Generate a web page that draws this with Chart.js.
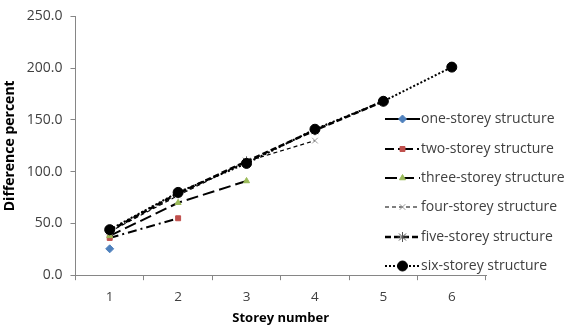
<!DOCTYPE html>
<html>
<head>
<meta charset="utf-8">
<script src="https://cdn.jsdelivr.net/npm/chart.js@4/dist/chart.umd.min.js"></script>
<style>
html,body{margin:0;padding:0;background:#fff;}
#wrap{width:569px;height:326px;position:relative;}
</style>
</head>
<body>
<div id="wrap"><canvas id="c" width="569" height="326"></canvas></div>
<script>
const categories = ['1','2','3','4','5','6'];
const oneStorey   = [25.5];
const twoStorey   = [36, 55];
const threeStorey = [38, 70, 91];
const fourStorey  = [42, 77, 110, 130];
const fiveStorey  = [43, 79, 110, 140, 168];
const sixStorey   = [44, 80, 108, 141, 168, 201];
const seriesNames = ['one-storey structure','two-storey structure','three-storey structure','four-storey structure','five-storey structure','six-storey structure'];
const yTicks = [0, 50, 100, 150, 200, 250];

const styles = [
  {line:'#000', width:2, dash:[], point:'rectRot', pColor:'#4F81BD', pBorder:'#4F81BD', r:4},
  {line:'#000', width:2, dash:[9,4,2,4], point:'rect', pColor:'#C0504D', pBorder:'#C0504D', r:3.5},
  {line:'#000', width:2, dash:[12,5], point:'triangle', pColor:'#9BBB59', pBorder:'#9BBB59', r:3.5},
  {line:'#000', width:1.2, dash:[4,3], point:'crossRot', pColor:'#999', pBorder:'#999', r:4},
  {line:'#000', width:2.5, dash:[6,3], point:'star', pColor:'#555', pBorder:'#555', r:5},
  {line:'#000', width:2, dash:[2,2], point:'circle', pColor:'#000', pBorder:'#000', r:5}
];
const allData = [oneStorey, twoStorey, threeStorey, fourStorey, fiveStorey, sixStorey];

const datasets = allData.map((d,i)=>({
  label: seriesNames[i],
  data: d,
  borderColor: styles[i].line,
  borderWidth: styles[i].width,
  borderDash: styles[i].dash,
  pointStyle: styles[i].point,
  pointRadius: styles[i].r,
  pointBackgroundColor: styles[i].pColor,
  pointBorderColor: styles[i].pBorder,
  pointBorderWidth: 1,
  fill: false,
  tension: 0,
  order: 6 - i
}));

const legendPlugin = {
  id: 'customLegend',
  afterDraw(chart) {
    const ctx = chart.ctx;
    const x0 = 385, x1 = 420, tx = 421;
    const ys = [119, 149, 178, 207, 237, 266];
    ctx.save();
    ctx.font = '14px "Open Sans"';
    ctx.textBaseline = 'middle';
    datasets.forEach((ds,i)=>{
      const y = ys[i];
      ctx.save();
      ctx.strokeStyle = ds.borderColor;
      ctx.lineWidth = ds.borderWidth;
      ctx.setLineDash(ds.borderDash);
      ctx.beginPath(); ctx.moveTo(x0,y); ctx.lineTo(x1,y); ctx.stroke();
      ctx.restore();
      ctx.save();
      ctx.fillStyle = ds.pointBackgroundColor;
      ctx.strokeStyle = ds.pointBorderColor;
      ctx.lineWidth = 1;
      Chart.helpers.drawPoint(ctx, {pointStyle: ds.pointStyle, radius: ds.pointRadius, rotation: 0, borderWidth: 1}, (x0+x1)/2, y);
      ctx.restore();
      ctx.fillStyle = '#404040';
      ctx.fillText(ds.label, tx, y);
    });
    ctx.restore();
  }
};

new Chart(document.getElementById('c'), {
  type: 'line',
  data: { labels: categories, datasets },
  options: {
    responsive: false,
    animation: false,
    layout: { padding: { left: 2, right: 83, top: 12, bottom: 0 } },
    plugins: { legend: { display: false }, tooltip: { enabled: false } },
    scales: {
      x: {
        type: 'category',
        offset: true,
        grid: { display: true, drawOnChartArea: false, offset: true, color: '#868686', tickLength: 5, drawTicks: true },
        border: { color: '#868686', width: 1 },
        ticks: { color: '#404040', font: { family: 'Open Sans', size: 13.5 }, padding: 9, maxRotation: 0 },
        title: { display: true, text: 'Storey number', color: '#000', font: { family: 'Open Sans', size: 13, weight: 'bold' }, padding: { top: -4, bottom: 0 } }
      },
      y: {
        min: 0, max: 250,
        afterBuildTicks(scale){ scale.ticks = yTicks.map(v=>({value:v})); },
        grid: { display: true, drawOnChartArea: false, color: '#868686', tickLength: 5 },
        border: { color: '#868686', width: 1 },
        ticks: { color: '#404040', font: { family: 'Open Sans', size: 14 }, padding: 8, callback: v => Number(v).toFixed(1) },
        title: { display: true, text: 'Difference percent', color: '#000', font: { family: 'Open Sans', size: 14, weight: 'bold' }, padding: { top: 0, bottom: 0 } }
      }
    }
  },
  plugins: [legendPlugin]
});
</script>
</body>
</html>
